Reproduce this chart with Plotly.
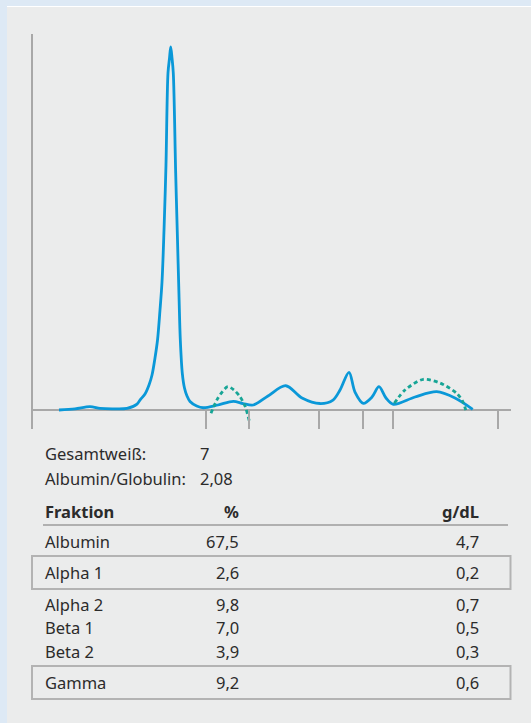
import plotly.graph_objects as go

# ---------------- data ----------------
# electrophoresis densitogram (mobility units 0-100, relative intensity)
curve_x = [5.44, 8.79, 11.92, 14.02, 16.53, 19.67, 21.76, 22.38, 23.43, 24.27, 24.90, 25.52, 26.05, 26.57,
           26.99, 27.41, 27.82, 28.24, 28.56, 28.81, 29.08, 29.35, 29.85, 30.23, 30.54, 30.82, 31.23,
           31.69, 32.22, 32.85, 34.25, 35.63,
           38.70, 41.90, 43.93, 46.09, 49.16, 52.87, 56.28, 60.04, 62.76, 64.23, 66.11, 67.36, 69.10,
           70.92, 72.38, 73.85, 75.38, 79.92, 84.46, 88.28, 91.99]
curve_y = [0.0, 0.33, 0.91, 0.47, 0.33, 0.44, 1.60, 2.75, 4.41, 6.89, 9.64, 14.33, 19.28, 27.55,
           35.26, 49.59, 67.49, 92.84, 96.97, 100.0, 96.97, 92.84, 65.29, 46.83, 31.68, 19.28, 10.19,
           6.06, 3.86, 2.34, 1.10, 0.63,
           1.38, 2.40, 1.79, 1.38, 3.86, 6.69, 3.31, 1.79, 2.75, 5.51, 10.39, 4.96, 1.85,
           3.58, 6.42, 3.31, 1.57, 3.58, 5.04, 3.31, 0.19]

ref1_x = [37.24, 38.70, 40.73, 42.05, 43.31, 44.35, 45.25]
ref1_y = [-0.91, 3.31, 6.42, 5.51, 3.66, 1.10, -3.03]
ref2_x = [75.59, 77.82, 81.65, 85.15, 88.64, 89.96, 90.73]
ref2_y = [1.85, 5.51, 8.46, 7.44, 4.60, 2.20, -0.91]

fraction_ticks = [0, 36.19, 45.19, 59.83, 69.10, 75.25, 97.34]

summary_labels = ["Gesamtweiß:", "Albumin/Globulin:"]
summary_values = ["7", "2,08"]

header = ["Fraktion", "%", "g/dL"]
fractions = ["Albumin", "Alpha 1", "Alpha 2", "Beta 1", "Beta 2", "Gamma"]
percent = ["67,5", "2,6", "9,8", "7,0", "3,9", "9,2"]
gdl = ["4,7", "0,2", "0,7", "0,5", "0,3", "0,6"]
highlighted = ["Alpha 1", "Gamma"]

# ---------------- figure ----------------
W, H = 531, 723
BLUE = "#0a98d8"
TEAL = "#17a596"
GRAY = "#a8a8a8"
TXT = "#2b2b2b"
FONT = "Noto Sans"
FS = 16.5


def px(x):
    return x / W


def py(y):
    return 1 - y / H


fig = go.Figure()
fig.add_trace(go.Scatter(x=curve_x, y=curve_y, mode="lines",
                         line=dict(color=BLUE, width=2.8, shape="spline", smoothing=0.9),
                         hoverinfo="skip", showlegend=False))
for rx, ry in [(ref1_x, ref1_y), (ref2_x, ref2_y)]:
    fig.add_trace(go.Scatter(x=rx, y=ry, mode="lines",
                             line=dict(color=TEAL, width=2.8, shape="spline", smoothing=0.8,
                                       dash="4px,3px"),
                             hoverinfo="skip", showlegend=False))

shapes = []
# panel background
shapes.append(dict(type="rect", xref="paper", yref="paper", x0=px(7), x1=1, y0=0, y1=py(7),
                   fillcolor="#ebecec", line=dict(width=0), layer="below"))
shapes.append(dict(type="line", xref="paper", yref="paper", x0=px(7), x1=1, y0=py(6.5), y1=py(6.5),
                   line=dict(color="#ffffff", width=1), layer="below"))

annotations = []
# summary lines
for i, (lab, val) in enumerate(zip(summary_labels, summary_values)):
    yy = 453 + i * 25
    annotations.append(dict(x=px(43), y=py(yy), text=lab, xanchor="left", yanchor="middle"))
    annotations.append(dict(x=px(198), y=py(yy), text=val, xanchor="left", yanchor="middle"))

# header
annotations.append(dict(x=px(43), y=py(511), text="<b>%s</b>" % header[0], xanchor="left", yanchor="middle"))
annotations.append(dict(x=px(241), y=py(511), text="<b>%s</b>" % header[1], xanchor="right", yanchor="middle"))
annotations.append(dict(x=px(481), y=py(511), text="<b>%s</b>" % header[2], xanchor="right", yanchor="middle"))
shapes.append(dict(type="line", xref="paper", yref="paper", x0=px(43), x1=px(508), y0=py(525), y1=py(525),
                   line=dict(color="#b0b0b0", width=2)))

# rows
yy = 541
prev_box = False
for i, (f, p, g) in enumerate(zip(fractions, percent, gdl)):
    box = f in highlighted
    if i > 0:
        yy += 23.5 + (8 if prev_box else 0) + (8 if box else 0)
    annotations.append(dict(x=px(43), y=py(yy), text=f, xanchor="left", yanchor="middle"))
    annotations.append(dict(x=px(241), y=py(yy), text=p, xanchor="right", yanchor="middle"))
    annotations.append(dict(x=px(481), y=py(yy), text=g, xanchor="right", yanchor="middle"))
    if box:
        shapes.append(dict(type="rect", xref="paper", yref="paper", x0=px(32), x1=px(510.5),
                           y0=py(yy - 16.5), y1=py(yy + 16.5),
                           line=dict(color="#b3b3b3", width=2), fillcolor="rgba(0,0,0,0)"))
    prev_box = box

for a in annotations:
    a.update(xref="paper", yref="paper", showarrow=False, font=dict(family=FONT, size=FS, color=TXT))

fig.update_layout(
    width=W, height=H, margin=dict(l=0, r=0, t=0, b=0),
    paper_bgcolor="#dde9f5", plot_bgcolor="rgba(0,0,0,0)",
    shapes=shapes, annotations=annotations,
    xaxis=dict(domain=[px(33), px(511)], range=[0, 100], showgrid=False, zeroline=False,
               showline=False, tickvals=fraction_ticks, ticks="inside", ticklen=19, tickwidth=2,
               tickcolor=GRAY, showticklabels=False, fixedrange=True),
    yaxis=dict(domain=[py(429), py(34)], range=[-5.23, 103.58], showgrid=False, zeroline=True,
               zerolinecolor=GRAY, zerolinewidth=2, showline=True, linecolor=GRAY, linewidth=2,
               ticks="", showticklabels=False, fixedrange=True),
    showlegend=False,
)

fig.write_html("out.html")
